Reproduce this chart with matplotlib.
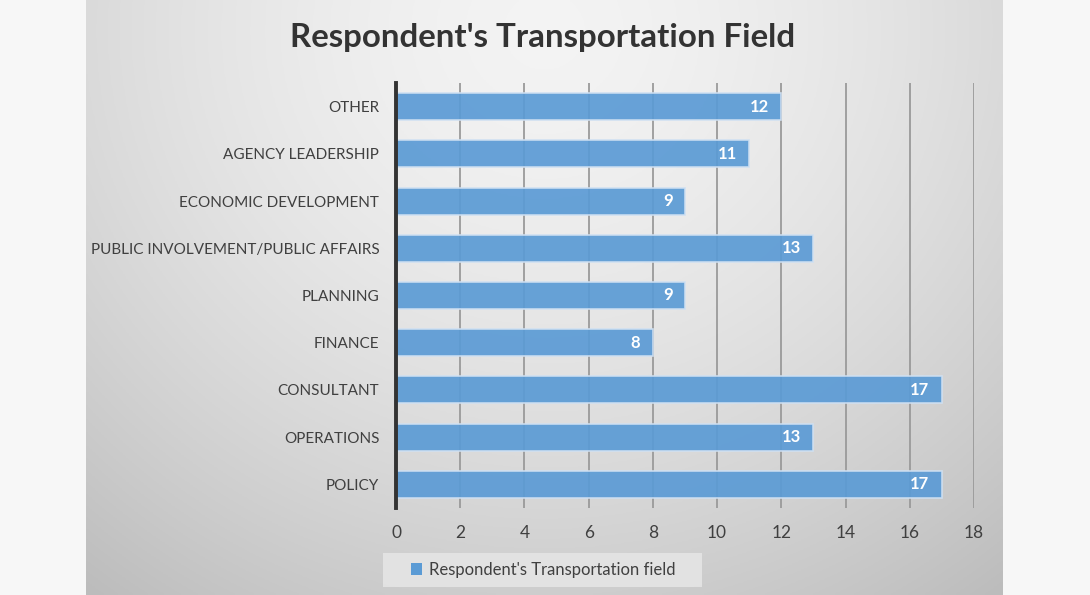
import numpy as np
import matplotlib.pyplot as plt
from matplotlib.patches import Patch, Rectangle

plt.rcParams["font.family"] = ["Lato", "DejaVu Sans"]

categorias = [
    "POLICY",
    "OPERATIONS",
    "CONSULTANT",
    "FINANCE",
    "PLANNING",
    "PUBLIC INVOLVEMENT/PUBLIC AFFAIRS",
    "ECONOMIC DEVELOPMENT",
    "AGENCY LEADERSHIP",
    "OTHER",
]
valores = [17, 13, 17, 8, 9, 13, 9, 11, 12]
ticks_x = [0, 2, 4, 6, 8, 10, 12, 14, 16, 18]
titulo = "Respondent's Transportation Field"
serie = "Respondent's Transportation field"

W, H = 1090, 595
fig = plt.figure(figsize=(W / 100, H / 100), dpi=100, facecolor="#f7f7f7")

# fondo gris con degradado (panel del grafico)
x0, x1 = 86, 1003
bg = fig.add_axes([x0 / W, 0, (x1 - x0) / W, 1], zorder=0)
gx, gy = np.meshgrid(np.linspace(0, 1, 300), np.linspace(0, 1, 200))
d = np.sqrt(((gx - 0.5) / 0.75) ** 2 + ((gy - 0.05) / 1.1) ** 2)
nivel = np.clip(0.955 - 0.19 * d ** 1.6, 0.74, 0.96)
bg.imshow(np.dstack([nivel] * 3), aspect="auto", extent=[0, 1, 1, 0])
bg.set_axis_off()

ax = fig.add_axes([396 / W, 1 - 508 / H, (974 - 396) / W, (508 - 83) / H], zorder=1)
ax.patch.set_alpha(0)

y = np.arange(len(categorias))
barras = ax.barh(y, valores, height=0.57, color="#5b9bd5", alpha=0.92,
                 edgecolor="#cfe0f2", linewidth=1.2, zorder=3)

for b, v in zip(barras, valores):
    ax.annotate(str(v), xy=(b.get_width(), b.get_y() + b.get_height() / 2),
                xytext=(-9, 0), textcoords="offset points", ha="right", va="center",
                color="white", fontsize=12, fontweight="bold", zorder=4)

ax.set_xlim(0, 18)
ax.set_ylim(-0.5, len(categorias) - 0.5)
ax.set_xticks(ticks_x)
ax.set_xticklabels([str(t) for t in ticks_x])
ax.set_yticks(y)
ax.set_yticklabels(categorias)
ax.tick_params(axis="both", length=0, labelcolor="#404040")
ax.tick_params(axis="x", pad=12, labelsize=12.5)
ax.tick_params(axis="y", pad=12, labelsize=11)
ax.grid(axis="x", color="#9a9a9a", linewidth=1.3, zorder=1)
ax.set_axisbelow(True)

for lado in ["top", "right", "bottom"]:
    ax.spines[lado].set_visible(False)
ax.spines["left"].set_color("#333333")
ax.spines["left"].set_linewidth(2.8)
ax.spines["left"].set_zorder(5)

fig.text(543 / W, 1 - 38 / H, titulo, ha="center", va="center",
         fontsize=23.8, fontweight="bold", color="#333333")

# caja de la leyenda
fig.patches.append(Rectangle((383 / W, 1 - 587 / H), (702 - 383) / W, 34 / H,
                             transform=fig.transFigure, facecolor="#e6e6e6",
                             edgecolor="none", alpha=0.85, zorder=1))
fig.legend(handles=[Patch(facecolor="#5b9bd5", edgecolor="none", label=serie)],
           loc="center", bbox_to_anchor=(543 / W, 1 - 570 / H),
           frameon=False, fontsize=12, handlelength=0.7,
           handleheight=0.7, handletextpad=0.4, borderaxespad=0,
           labelcolor="#404040")

fig.savefig("out.png", dpi=100, facecolor=fig.get_facecolor())
